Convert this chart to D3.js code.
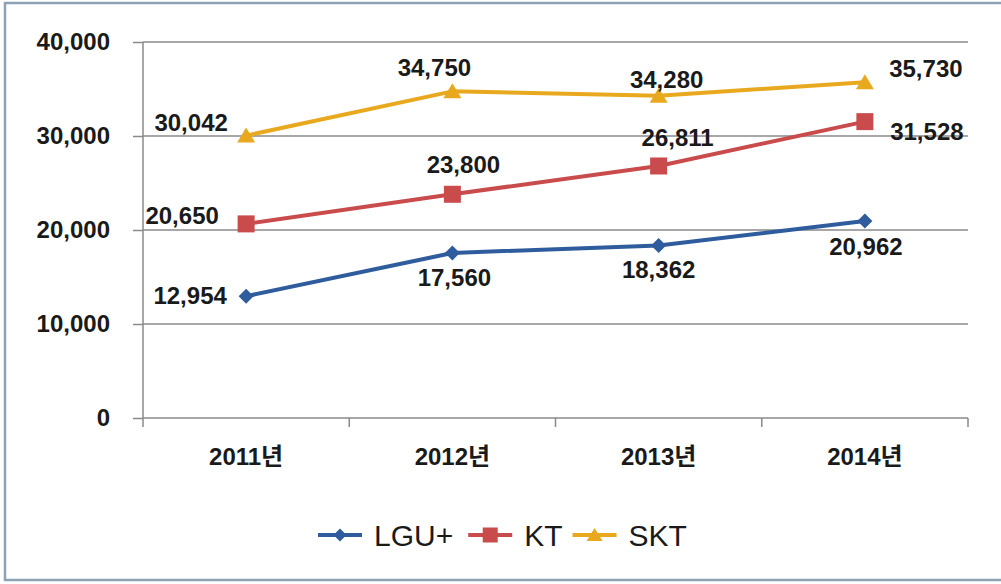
<!DOCTYPE html>
<html>
<head>
<meta charset="utf-8">
<script src="https://cdn.jsdelivr.net/npm/d3@7"></script>
<style>
  html, body { margin: 0; padding: 0; background: #fff; }
  svg { display: block; }
  text { font-family: "Liberation Sans", Arial, "Noto Sans CJK KR", sans-serif; fill: #1a1a1a; }
</style>
</head>
<body>
<svg id="chart" width="1001" height="584"></svg>
<script>
// chart data
var categories = ["2011년", "2012년", "2013년", "2014년"];
var seriesNames = ["LGU+", "KT", "SKT"];
var lguValues = [12954, 17560, 18362, 20962];
var ktValues = [20650, 23800, 26811, 31528];
var sktValues = [30042, 34750, 34280, 35730];
var yTickValues = [0, 10000, 20000, 30000, 40000];

// where each value label sits relative to its point (layout only)
var lguLabelOffsets = [[-56, -1], [2, 24], [0, 24], [1, 25]];
var ktLabelOffsets = [[-64, -9], [11, -30], [19, -29], [62, 10]];
var sktLabelOffsets = [[-55, -13], [-18, -24], [8, -16], [61, -14]];

var svg = d3.select("#chart");

var plotLeft = 143, plotRight = 968, plotTop = 42, plotBottom = 418;

var x = d3.scaleBand().domain(categories).range([plotLeft, plotRight]).padding(0);
var y = d3.scaleLinear().domain([0, 40000]).range([plotBottom, plotTop]);

var series = [
	{name: seriesNames[0], values: lguValues, offsets: lguLabelOffsets, color: "#2e5c9c", marker: "diamond"},
	{name: seriesNames[1], values: ktValues, offsets: ktLabelOffsets, color: "#c94b4c", marker: "square"},
	{name: seriesNames[2], values: sktValues, offsets: sktLabelOffsets, color: "#e8a91f", marker: "triangle"}
];

// outer frame
svg.append("rect")
	.attr("x", 5).attr("y", 3)
	.attr("width", 1000).attr("height", 577)
	.attr("fill", "#fff")
	.attr("stroke", "#8ea2b6")
	.attr("stroke-width", 2.5);

// gridlines
svg.append("g")
	.selectAll("line")
	.data(yTickValues.filter(function(d){ return d > 0; }))
	.join("line")
	.attr("x1", plotLeft).attr("x2", plotRight)
	.attr("y1", function(d){ return y(d); })
	.attr("y2", function(d){ return y(d); })
	.attr("stroke", "#8a8a8a")
	.attr("stroke-width", 1.5);

// y axis
var yAxis = svg.append("g")
	.attr("transform", "translate(" + plotLeft + ",0)")
	.call(d3.axisLeft(y).tickValues(yTickValues).tickFormat(d3.format(",")).tickSize(10).tickPadding(23));
yAxis.select(".domain").remove();
yAxis.selectAll(".tick line").attr("stroke", "#8a8a8a").attr("stroke-width", 1.5);
yAxis.selectAll(".tick text")
	.style("font-size", "24px")
	.style("font-weight", "bold")
	.attr("fill", "#1a1a1a");
svg.append("line")
	.attr("x1", plotLeft).attr("x2", plotLeft)
	.attr("y1", plotTop).attr("y2", plotBottom + 9)
	.attr("stroke", "#8a8a8a").attr("stroke-width", 1.5);

// x axis: labels centred in bands, ticks at band edges
var xAxis = svg.append("g")
	.attr("transform", "translate(0," + plotBottom + ")")
	.call(d3.axisBottom(x).tickSize(0).tickPadding(30));
xAxis.select(".domain").remove();
xAxis.selectAll(".tick text")
	.style("font-size", "24px")
	.style("font-weight", "bold")
	.attr("fill", "#1a1a1a");
svg.append("line")
	.attr("x1", plotLeft).attr("x2", plotRight)
	.attr("y1", plotBottom).attr("y2", plotBottom)
	.attr("stroke", "#8a8a8a").attr("stroke-width", 1.5);
svg.append("g")
	.selectAll("line")
	.data(categories.slice(1).concat(["end"]))
	.join("line")
	.attr("x1", function(d){ return d === "end" ? plotRight : x(d); })
	.attr("x2", function(d){ return d === "end" ? plotRight : x(d); })
	.attr("y1", plotBottom).attr("y2", plotBottom + 9)
	.attr("stroke", "#8a8a8a").attr("stroke-width", 1.5);

function markerPath(type, s){
	var h = s / 2;
	if (type === "diamond") return "M0," + (-h) + "L" + h + ",0L0," + h + "L" + (-h) + ",0Z";
	if (type === "square") return "M" + (-h) + "," + (-h) + "h" + s + "v" + s + "h" + (-s) + "Z";
	return "M0," + (-h) + "L" + (h + 1) + "," + (h - 1) + "L" + (-h - 1) + "," + (h - 1) + "Z";
}
var markerSize = {diamond: 15, square: 17, triangle: 16};

var line = d3.line()
	.x(function(d, i){ return x(categories[i]) + x.bandwidth() / 2; })
	.y(function(d){ return y(d); });

series.forEach(function(s){
	var g = svg.append("g");
	g.append("path")
		.attr("d", line(s.values))
		.attr("fill", "none")
		.attr("stroke", s.color)
		.attr("stroke-width", 4)
		.attr("stroke-linejoin", "round");
	g.selectAll("path.mark")
		.data(s.values)
		.join("path")
		.attr("class", "mark")
		.attr("d", markerPath(s.marker, markerSize[s.marker]))
		.attr("transform", function(d, i){
			return "translate(" + (x(categories[i]) + x.bandwidth() / 2) + "," + y(d) + ")";
		})
		.attr("fill", s.color);
	g.selectAll("text")
		.data(s.values)
		.join("text")
		.attr("x", function(d, i){ return x(categories[i]) + x.bandwidth() / 2 + s.offsets[i][0]; })
		.attr("y", function(d, i){ return y(d) + s.offsets[i][1]; })
		.attr("dy", "0.36em")
		.attr("text-anchor", "middle")
		.style("font-size", "24px")
		.style("font-weight", "bold")
		.text(function(d){ return d3.format(",")(d); });
});

// legend
var legend = svg.append("g").attr("transform", "translate(318,535)");
var cursor = 0;
series.forEach(function(s, i){
	var item = legend.append("g").attr("transform", "translate(" + cursor + ",0)");
	item.append("line")
		.attr("x1", 0).attr("x2", 44)
		.attr("y1", 0).attr("y2", 0)
		.attr("stroke", s.color).attr("stroke-width", 4);
	item.append("path")
		.attr("d", markerPath(s.marker, markerSize[s.marker] - 2))
		.attr("transform", "translate(22,0)")
		.attr("fill", s.color);
	var t = item.append("text")
		.attr("x", 56)
		.attr("y", 0)
		.attr("dy", "0.36em")
		.style("font-size", "30px")
		.text(s.name);
	cursor += 56 + t.node().getComputedTextLength() + (i === 0 ? 15 : 10);
});
</script>
</body>
</html>
